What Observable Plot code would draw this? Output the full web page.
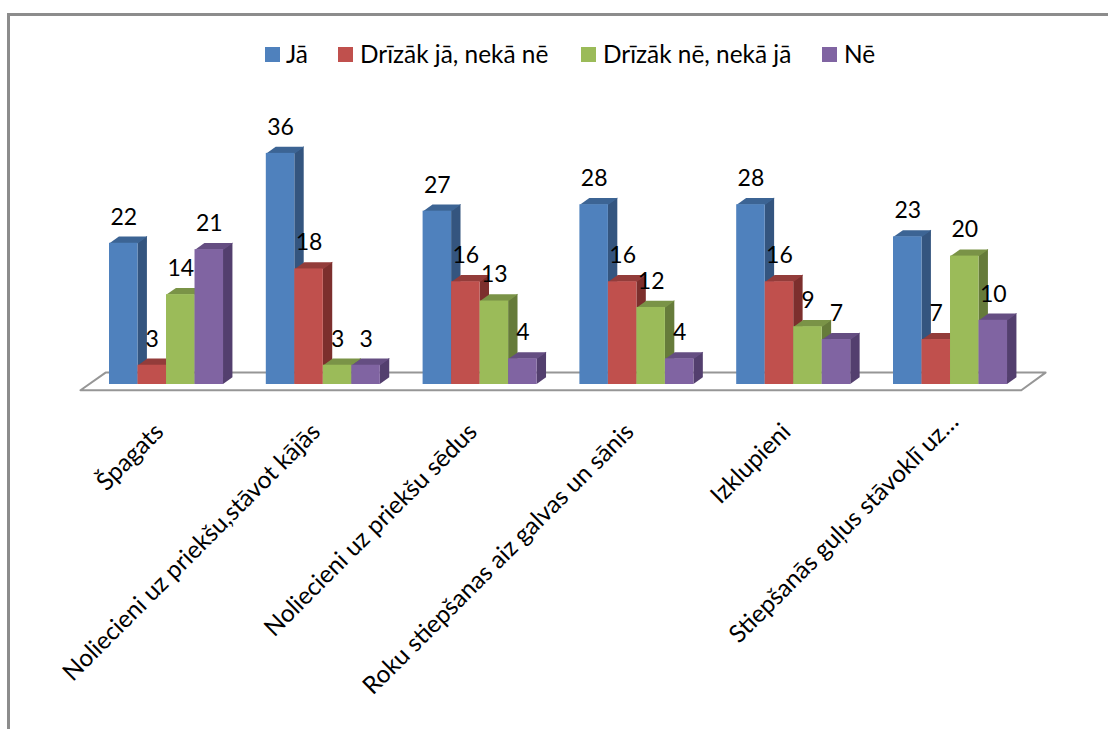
<!DOCTYPE html>
<html lang="lv">
<head>
<meta charset="utf-8">
<script src="https://cdn.jsdelivr.net/npm/d3@7"></script>
<script src="https://cdn.jsdelivr.net/npm/@observablehq/plot@0.6"></script>
<style>
  html, body { margin: 0; padding: 0; background: #fff; }
  body { position: relative; width: 1108px; height: 729px; overflow: hidden; font-family: Lato, "Open Sans", sans-serif; }
  #frame { position: absolute; left: 7px; top: 13px; right: 0; bottom: 0; border-left: 3px solid #8c8c8c; border-top: 3px solid #8c8c8c; }
  #legend span.key { position: absolute; top: 47px; width: 15px; height: 15px; }
  #legend span.name { position: absolute; top: 39px; font-size: 24.4px; line-height: 30px; color: #000; white-space: nowrap; }
  #chart { position: absolute; left: 0; top: 0; }
  #chart svg { display: block; background: transparent; }
</style>
</head>
<body>
<div id="frame"></div>
<div id="chart"></div>
<div id="legend"></div>
<script>
// Survey answers per stretching exercise
const categories = [
  "Špagats",
  "Noliecieni uz priekšu,stāvot kājās",
  "Noliecieni uz priekšu sēdus",
  "Roku stiepšanas aiz galvas un sānis",
  "Izklupieni",
  "Stiepšanās guļus stāvoklī uz…"
];
const seriesNames = ["Jā", "Drīzāk jā, nekā nē", "Drīzāk nē, nekā jā", "Nē"];
const ja = [22, 36, 27, 28, 28, 23];
const drizakJa = [3, 18, 16, 16, 16, 7];
const drizakNe = [14, 3, 13, 12, 9, 20];
const ne = [21, 3, 4, 4, 7, 10];
const seriesValues = [ja, drizakJa, drizakNe, ne];

// Face shades of each column: front, side, top
const frontColors = ["#4f81bd", "#c0504d", "#9bbb59", "#8064a2"];
const sideColors = ["#34557f", "#7c2f2d", "#667b3a", "#533f6e"];
const topColors = ["#3c6494", "#933c3a", "#7a9347", "#654e82"];

// Column geometry in scale units: x counts categories, y counts answers
const slot = 0.1818;
const depthX = 0.06;
const depthY = 1.04;

const marks = [];

// Floor of the 3D box, painted behind the columns
const floor = [
  {x: -0.185, y: -0.9},
  {x: -0.025, y: 1.85},
  {x: 5.97, y: 1.85},
  {x: 5.815, y: -0.9},
  {x: -0.185, y: -0.9}
];
marks.push(Plot.line(floor, {x: "x", y: "y", fill: "#fff", stroke: "#969696", strokeWidth: 2, curve: "linear"}));

// Columns are painted series by series so nearer faces cover the sides behind them
seriesValues.forEach((values, s) => {
  const bars = values.map((v, g) => ({g, v, x1: g + s * slot, x2: g + (s + 1) * slot}));
  const side = bars.flatMap(b => [
    {g: b.g, x: b.x2, y1: 0, y2: b.v},
    {g: b.g, x: b.x2 + depthX, y1: depthY, y2: b.v + depthY}
  ]);
  const top = bars.flatMap(b => [
    {g: b.g, x: b.x1, y: b.v},
    {g: b.g, x: b.x1 + depthX, y: b.v + depthY},
    {g: b.g, x: b.x2 + depthX, y: b.v + depthY},
    {g: b.g, x: b.x2, y: b.v}
  ]);
  marks.push(
    Plot.areaY(side, {x: "x", y1: "y1", y2: "y2", z: "g", fill: sideColors[s], curve: "linear"}),
    Plot.line(top, {x: "x", y: "y", z: "g", fill: topColors[s], stroke: "none", curve: "linear"}),
    Plot.rectY(bars, {x1: "x1", x2: "x2", y1: 0, y2: "v", fill: frontColors[s], inset: 0})
  );
});

// Value labels above each column
seriesValues.forEach((values, s) => {
  marks.push(Plot.text(values.map((v, g) => ({v, x: g + (s + 0.5) * slot})), {
    x: "x", y: "v", text: d => String(d.v),
    dy: -26, fontSize: 23, fill: "#000", stroke: "none", lineAnchor: "middle", textAnchor: "middle"
  }));
});

// Slanted category names under each group; the shortened last name sits a little higher
const categoryRows = categories.map((name, g) => ({name, g}));
const slantedLabel = (rows, dx, dy) => Plot.text(rows, {
  x: d => d.g + 1.96 * slot,
  y: () => -6.6,
  text: "name",
  dx, dy,
  rotate: -45, textAnchor: "end", lineAnchor: "middle", fontSize: 24.4, fill: "#000"
});
marks.push(
  slantedLabel(categoryRows.slice(0, -1), -6, 1),
  slantedLabel(categoryRows.slice(-1), 5, -9)
);

const chart = Plot.plot({
  width: 1108,
  height: 729,
  margin: 0,
  style: {background: "transparent", fontFamily: "Lato, 'Open Sans', sans-serif"},
  x: {type: "linear", domain: [0, 6], range: [109, 1049.8], axis: null},
  y: {type: "linear", domain: [0, 50], range: [384, 63], axis: null},
  marks
});
document.getElementById("chart").append(chart);

// Legend row across the top of the frame
const legendKeyLeft = [265, 338, 581, 822];
const legendNameLeft = [286, 360, 603, 844];
const legend = document.getElementById("legend");
seriesNames.forEach((name, s) => {
  const key = document.createElement("span");
  key.className = "key";
  key.style.left = legendKeyLeft[s] + "px";
  key.style.background = frontColors[s];
  const label = document.createElement("span");
  label.className = "name";
  label.style.left = legendNameLeft[s] + "px";
  label.textContent = name;
  legend.append(key, label);
});
</script>
</body>
</html>
